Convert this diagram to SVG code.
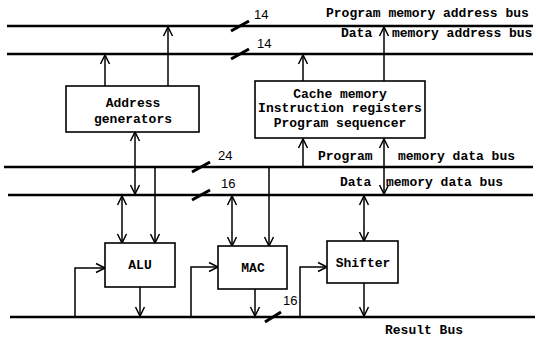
<svg xmlns="http://www.w3.org/2000/svg" width="538" height="340" viewBox="0 0 538 340">
<defs>
<marker id="arr" viewBox="-10 -6 12 12" markerWidth="12" markerHeight="12" refX="0" refY="0" orient="auto-start-reverse" markerUnits="userSpaceOnUse">
<path d="M-9,-4.5 L0,0 L-9,4.5" fill="none" stroke="#000" stroke-width="1.5"/>
</marker>
<style>
.bus{stroke:#000;stroke-width:2.6;fill:none}
.ln{stroke:#000;stroke-width:1.5;fill:none}
.sl{stroke:#000;stroke-width:3;fill:none}
.box{fill:#fff;stroke:#000;stroke-width:1.6}
.t{font-family:"Liberation Mono",monospace;font-weight:bold;font-size:13px;fill:#000}
.n{font-family:"Liberation Sans",sans-serif;font-size:13px;fill:#000}
.a{marker-end:url(#arr)}
.b{marker-start:url(#arr);marker-end:url(#arr)}
</style>
</defs>
<rect width="538" height="340" fill="#fff"/>
<g id="buses">
<line class="bus" x1="7" y1="26" x2="533" y2="26"/>
<line class="bus" x1="7" y1="54" x2="533" y2="54"/>
<line class="bus" x1="4" y1="167" x2="533" y2="167"/>
<line class="bus" x1="8" y1="195" x2="533" y2="195"/>
<line class="bus" x1="10" y1="317" x2="535" y2="317"/>
<line class="sl" x1="231" y1="31" x2="249" y2="21"/>
<line class="sl" x1="231" y1="59" x2="249" y2="49"/>
<line class="sl" x1="192" y1="172" x2="210" y2="162"/>
<line class="sl" x1="192" y1="200" x2="210" y2="190"/>
<line class="sl" x1="265" y1="322" x2="281" y2="312"/>
<text class="n" x="254" y="19">14</text>
<text class="n" x="257" y="48">14</text>
<text class="n" x="218" y="160">24</text>
<text class="n" x="221" y="188">16</text>
<text class="n" x="283" y="305">16</text>
<text class="t" x="326" y="17">Program memory address bus</text>
<text class="t" x="341" y="37">Data</text>
<text class="t" x="392" y="37">memory address bus</text>
<text class="t" x="318" y="160">Program</text>
<text class="t" x="398" y="160">memory data bus</text>
<text class="t" x="340" y="186">Data</text>
<text class="t" x="386" y="186">memory data bus</text>
<text class="t" x="385" y="334">Result Bus</text>
</g>
<g id="connectors">
<line class="ln a" x1="105" y1="86" x2="105" y2="55"/>
<line class="ln a" x1="168" y1="86" x2="168" y2="27"/>
<line class="ln a" x1="303" y1="81" x2="303" y2="55"/>
<line class="ln a" x1="384" y1="81" x2="384" y2="27"/>
<line class="ln b" x1="135" y1="132" x2="135" y2="194"/>
<line class="ln a" x1="303" y1="166" x2="303" y2="139"/>
<line class="ln b" x1="384" y1="139" x2="384" y2="194"/>
<line class="ln b" x1="122" y1="196" x2="122" y2="243"/>
<line class="ln a" x1="155" y1="168" x2="155" y2="243"/>
<line class="ln b" x1="232" y1="196" x2="232" y2="246"/>
<line class="ln a" x1="269" y1="168" x2="269" y2="246"/>
<line class="ln b" x1="364" y1="196" x2="364" y2="241"/>
<line class="ln a" x1="140" y1="287" x2="140" y2="316"/>
<line class="ln a" x1="255" y1="289" x2="255" y2="316"/>
<line class="ln a" x1="364" y1="283" x2="364" y2="316"/>
<polyline class="ln a" points="75,316 75,268 105,268"/>
<polyline class="ln a" points="191,316 191,267 218,267"/>
<polyline class="ln a" points="300,316 300,267 327,267"/>
</g>
<g id="address-generators">
<rect class="box" x="66" y="86" width="133" height="46"/>
<text class="t" x="133" y="107" text-anchor="middle">Address</text>
<text class="t" x="133" y="123" text-anchor="middle">generators</text>
</g>
<g id="cache">
<rect class="box" x="255" y="81" width="170" height="57"/>
<text class="t" x="340" y="98" text-anchor="middle">Cache memory</text>
<text class="t" x="340" y="112" text-anchor="middle">Instruction registers</text>
<text class="t" x="340" y="127" text-anchor="middle">Program sequencer</text>
</g>
<g id="alu">
<rect class="box" x="105" y="243" width="70" height="44"/>
<text class="t" x="140" y="269" text-anchor="middle">ALU</text>
</g>
<g id="mac">
<rect class="box" x="218" y="246" width="69" height="43"/>
<text class="t" x="253" y="272" text-anchor="middle">MAC</text>
</g>
<g id="shifter">
<rect class="box" x="327" y="241" width="71" height="42"/>
<text class="t" x="363" y="267" text-anchor="middle">Shifter</text>
</g>
</svg>
